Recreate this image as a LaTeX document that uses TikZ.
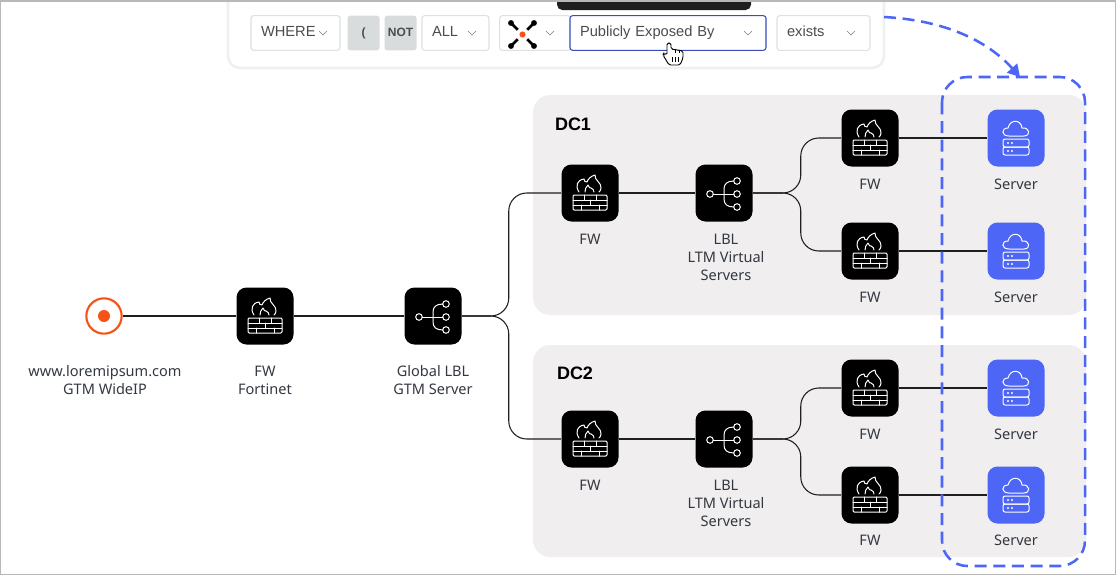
\documentclass[tikz,border=0pt]{standalone}
\usepackage{fontspec}
\setmainfont{Noto Sans}
\newfontfamily\btnfont{Liberation Sans}
\usetikzlibrary{arrows.meta,positioning}
\definecolor{boxgray}{RGB}{240,238,239}
\definecolor{srvblue}{RGB}{77,102,245}
\definecolor{dotorange}{RGB}{246,84,22}
\definecolor{txtgray}{RGB}{52,56,64}
\definecolor{btnline}{RGB}{222,224,226}
\definecolor{btnfill}{RGB}{217,220,220}
\tikzset{
  iconline/.style={draw=white, line width=0.75pt, line join=round, line cap=round},
  pics/fwicon/.style={code={
    \draw[iconline, rounded corners=0.8pt] (-17,2) rectangle (17,17);
    \draw[iconline] (-17,7) -- (17,7) (-17,12) -- (17,12);
    \draw[iconline] (-6,2) -- (-6,7) (6,2) -- (6,7) (0,7) -- (0,12) (-9,12) -- (-9,17) (9,12) -- (9,17);
    \draw[iconline] (-11,-1) .. controls (-15,-7) and (-13,-13) .. (-6,-14)
      .. controls (-6,-12) and (-5,-11) .. (-3,-11) .. controls (-2,-14) and (1,-17) .. (5,-18)
      .. controls (4,-13) and (12,-10) .. (11,-5) .. controls (11,-3) and (10,-2) .. (9,-1);
    \draw[iconline] (-5,-1) .. controls (-5,-4) and (-4,-6) .. (-2,-8)
      .. controls (-1,-5) and (0,-5) .. (1,-5) .. controls (3,-4) and (4,-3) .. (4,-1);
  }},
  pics/lblicon/.style={code={
    \draw[iconline] (-14,1) circle (3.3 and 3.3);
    \draw[iconline] (13,-12) circle (3.3 and 3.3) (13,1) circle (3.3 and 3.3) (13,14) circle (3.3 and 3.3);
    \draw[iconline] (-11,1) -- (10,1);
    \draw[iconline] (10,-12) .. controls (3,-12) and (0,-9) .. (0,-4) -- (0,6) .. controls (0,11) and (3,14) .. (10,14);
  }},
  pics/srvicon/.style={code={
    \draw[iconline] (-7,-2) .. controls (-15,-2) and (-15,-10) .. (-8,-10) .. controls (-6,-19) and (5,-19) .. (6,-10)
      .. controls (14,-11) and (15,-2) .. (8,-2) -- cycle;
    \draw[iconline, rounded corners=1.5pt] (-13,1) rectangle (13,9);
    \draw[iconline, rounded corners=1.5pt] (-13,9) rectangle (13,17);
    \fill[white] (-8,5) circle (0.9pt) (-4,5) circle (0.9pt) (-8,13) circle (0.9pt) (-4,13) circle (0.9pt);
  }},
  pics/chev/.style={code={
    \draw[black!50, line width=0.5pt] (-4,-2) -- (0,2) -- (4,-2);
  }},
}
\begin{document}
\begin{tikzpicture}[
  x=0.75pt, y=-0.75pt,
  iconbox/.style={rectangle, rounded corners=7.5pt, minimum size=42.75pt, inner sep=0pt},
  fwbox/.style={iconbox, fill=black},
  srvbox/.style={iconbox, fill=srvblue},
  lbl/.style={align=center, inner sep=0pt, text=txtgray, font=\fontsize{10.9}{13.5}\selectfont},
  dctitle/.style={inner sep=0pt, text=black, font=\btnfont\fontsize{13.5}{15}\selectfont\bfseries},
  link/.style={draw=black!88, line width=0.8pt},
  branch/.style={link, rounded corners=13.5pt},
  dcbox/.style={fill=boxgray, rounded corners=13pt},
  btn/.style={draw=btnline, line width=0.8pt, fill=white, rounded corners=2pt, minimum height=26pt, inner xsep=7.5pt, inner ysep=0pt, text height=8pt, text depth=2.5pt, align=left, text=black!70, font=\btnfont\fontsize{11}{13}\selectfont},
  selbtn/.style={btn, draw=srvblue!75!black},
  graybtn/.style={btn, draw=none, fill=btnfill, inner xsep=0pt, align=center, text width=24pt, font=\btnfont\fontsize{9}{11}\selectfont\bfseries},
  expline/.style={draw=srvblue, line width=1.9pt, dash pattern=on 9pt off 5pt},
]
\clip (0,0) rectangle (1116,575);
\fill[white] (0,0) rectangle (1116,575);

% query bar
\draw[draw=black!6, line width=2pt, fill=white, rounded corners=9pt] (228,-20) rectangle (884,68);
\fill[black!88, rounded corners=4pt] (557,-10) rectangle (751,10);
\node[btn, text width=51.75pt] (where) at (295.5,33) {WHERE};
\node[graybtn] (paren) at (363.5,33) {(};
\node[graybtn] (notbtn) at (400.5,33) {NOT};
\node[btn, text width=35.25pt] (allbtn) at (455.5,33) {ALL};
\node[btn, minimum width=53pt, text width=38pt] (netbtn) at (535,33) {};
\node[selbtn, text width=132pt] (exposed) at (668,33) {Publicly Exposed By};
\node[btn, text width=54.75pt] (exists) at (823.5,33) {exists};
\pic at (323,33) {chev};
\pic at (472,33) {chev};
\pic at (550,33) {chev};
\pic at (748,33) {chev};
\pic at (851,33) {chev};
\draw[black, line width=2pt] (511,23) -- (534,46) (534,23) -- (511,46);
\fill[black] (511,23) circle (2.2pt) (534,23) circle (2.2pt) (511,46) circle (2.2pt) (534,46) circle (2.2pt);
\fill[white] (522.5,34.5) circle (5pt);
\fill[dotorange] (522.5,34.5) circle (2.3pt);
\draw[black, fill=white, line width=0.7pt, rounded corners=1.2pt] (667,43) -- (671,43) -- (671,49) -- (683,51) -- (683,58) -- (680,65) -- (669,65) -- (663,55) -- (664,53) -- (667,55) -- cycle;
\draw[black, line width=0.5pt] (675,49) -- (675,53) (679,50) -- (679,53) (672,57) -- (672,62) (675,57) -- (675,62) (678,57) -- (678,62);

% data centers
\path[dcbox] (533,95) rectangle (1086,315);
\path[dcbox] (533,345) rectangle (1086,557);
\node[dctitle] (dc1) at (573,124) {DC1};
\node[dctitle] (dc2) at (575,373) {DC2};

\node[circle, draw=dotorange, line width=1.6pt, fill=white, minimum size=26.5pt, inner sep=0pt] (wideip) at (104,316) {};
\fill[dotorange] (wideip) circle (4.5pt);
\node[fwbox] (fw0) at (265,316) {};
\node[fwbox] (glb) at (433,316) {};

\node[fwbox] (fw1) at (590,193) {};
\node[fwbox] (lbl1) at (724,193) {};
\node[fwbox] (fw11) at (870,138) {};
\node[fwbox] (fw12) at (870,251) {};
\node[srvbox] (srv11) at (1016,138) {};
\node[srvbox] (srv12) at (1016,251) {};

\node[fwbox] (fw2) at (590,439) {};
\node[fwbox] (lbl2) at (724,439) {};
\node[fwbox] (fw21) at (870,388) {};
\node[fwbox] (fw22) at (870,495) {};
\node[srvbox] (srv21) at (1016,388) {};
\node[srvbox] (srv22) at (1016,495) {};

\pic at (fw0) {fwicon};
\pic at (fw1) {fwicon};
\pic at (fw2) {fwicon};
\pic at (fw11) {fwicon};
\pic at (fw12) {fwicon};
\pic at (fw21) {fwicon};
\pic at (fw22) {fwicon};
\pic at (glb) {lblicon};
\pic at (lbl1) {lblicon};
\pic at (lbl2) {lblicon};
\pic at (srv11) {srvicon};
\pic at (srv12) {srvicon};
\pic at (srv21) {srvicon};
\pic at (srv22) {srvicon};

% links
\draw[link] (wideip) -- (fw0);
\draw[link] (fw0) -- (glb);
\draw[branch] (glb.east) -- ++(47,0) |- (fw1.west);
\draw[branch] (glb.east) -- ++(47,0) |- (fw2.west);
\draw[link] (fw1) -- (lbl1);
\draw[link] (fw2) -- (lbl2);
\draw[branch] (lbl1.east) -- ++(48,0) |- (fw11.west);
\draw[branch] (lbl1.east) -- ++(48,0) |- (fw12.west);
\draw[branch] (lbl2.east) -- ++(48,0) |- (fw21.west);
\draw[branch] (lbl2.east) -- ++(48,0) |- (fw22.west);
\draw[link] (fw11) -- (srv11);
\draw[link] (fw12) -- (srv12);
\draw[link] (fw21) -- (srv21);
\draw[link] (fw22) -- (srv22);

% labels
\node[lbl] (t0) at (105,380) {www.loremipsum.com\\GTM WideIP};
\node[lbl] (t1) at (265,380) {FW\\Fortinet};
\node[lbl] (t2) at (433,380) {Global LBL\\GTM Server};
\node[lbl] (t3) at (590,239) {FW};
\node[lbl] (t4) at (726,257) {LBL\\LTM Virtual\\Servers};
\node[lbl] (t5) at (870,184) {FW};
\node[lbl] (t6) at (870,297) {FW};
\node[lbl] (t7) at (1016,184) {Server};
\node[lbl] (t8) at (1016,297) {Server};
\node[lbl] (t9) at (590,485) {FW};
\node[lbl] (t10) at (726,503) {LBL\\LTM Virtual\\Servers};
\node[lbl] (t11) at (870,434) {FW};
\node[lbl] (t12) at (870,540) {FW};
\node[lbl] (t13) at (1016,434) {Server};
\node[lbl] (t14) at (1016,540) {Server};

% exposed servers
\draw[expline, rounded corners=19pt] (942,77) rectangle (1085,566);
\coordinate (arrstart) at (884,17);
\coordinate (arrend) at (1020,77);
\draw[expline, -{Triangle[length=9pt,width=10pt]}] (arrstart) .. controls (940,20) and (985,38) .. (arrend);

\draw[black!28, line width=0.8pt] (0.5,0.5) rectangle (1115.5,574.5);
\draw[black!28, line width=1.5pt] (0,1) -- (1116,1);
\end{tikzpicture}
\end{document}
